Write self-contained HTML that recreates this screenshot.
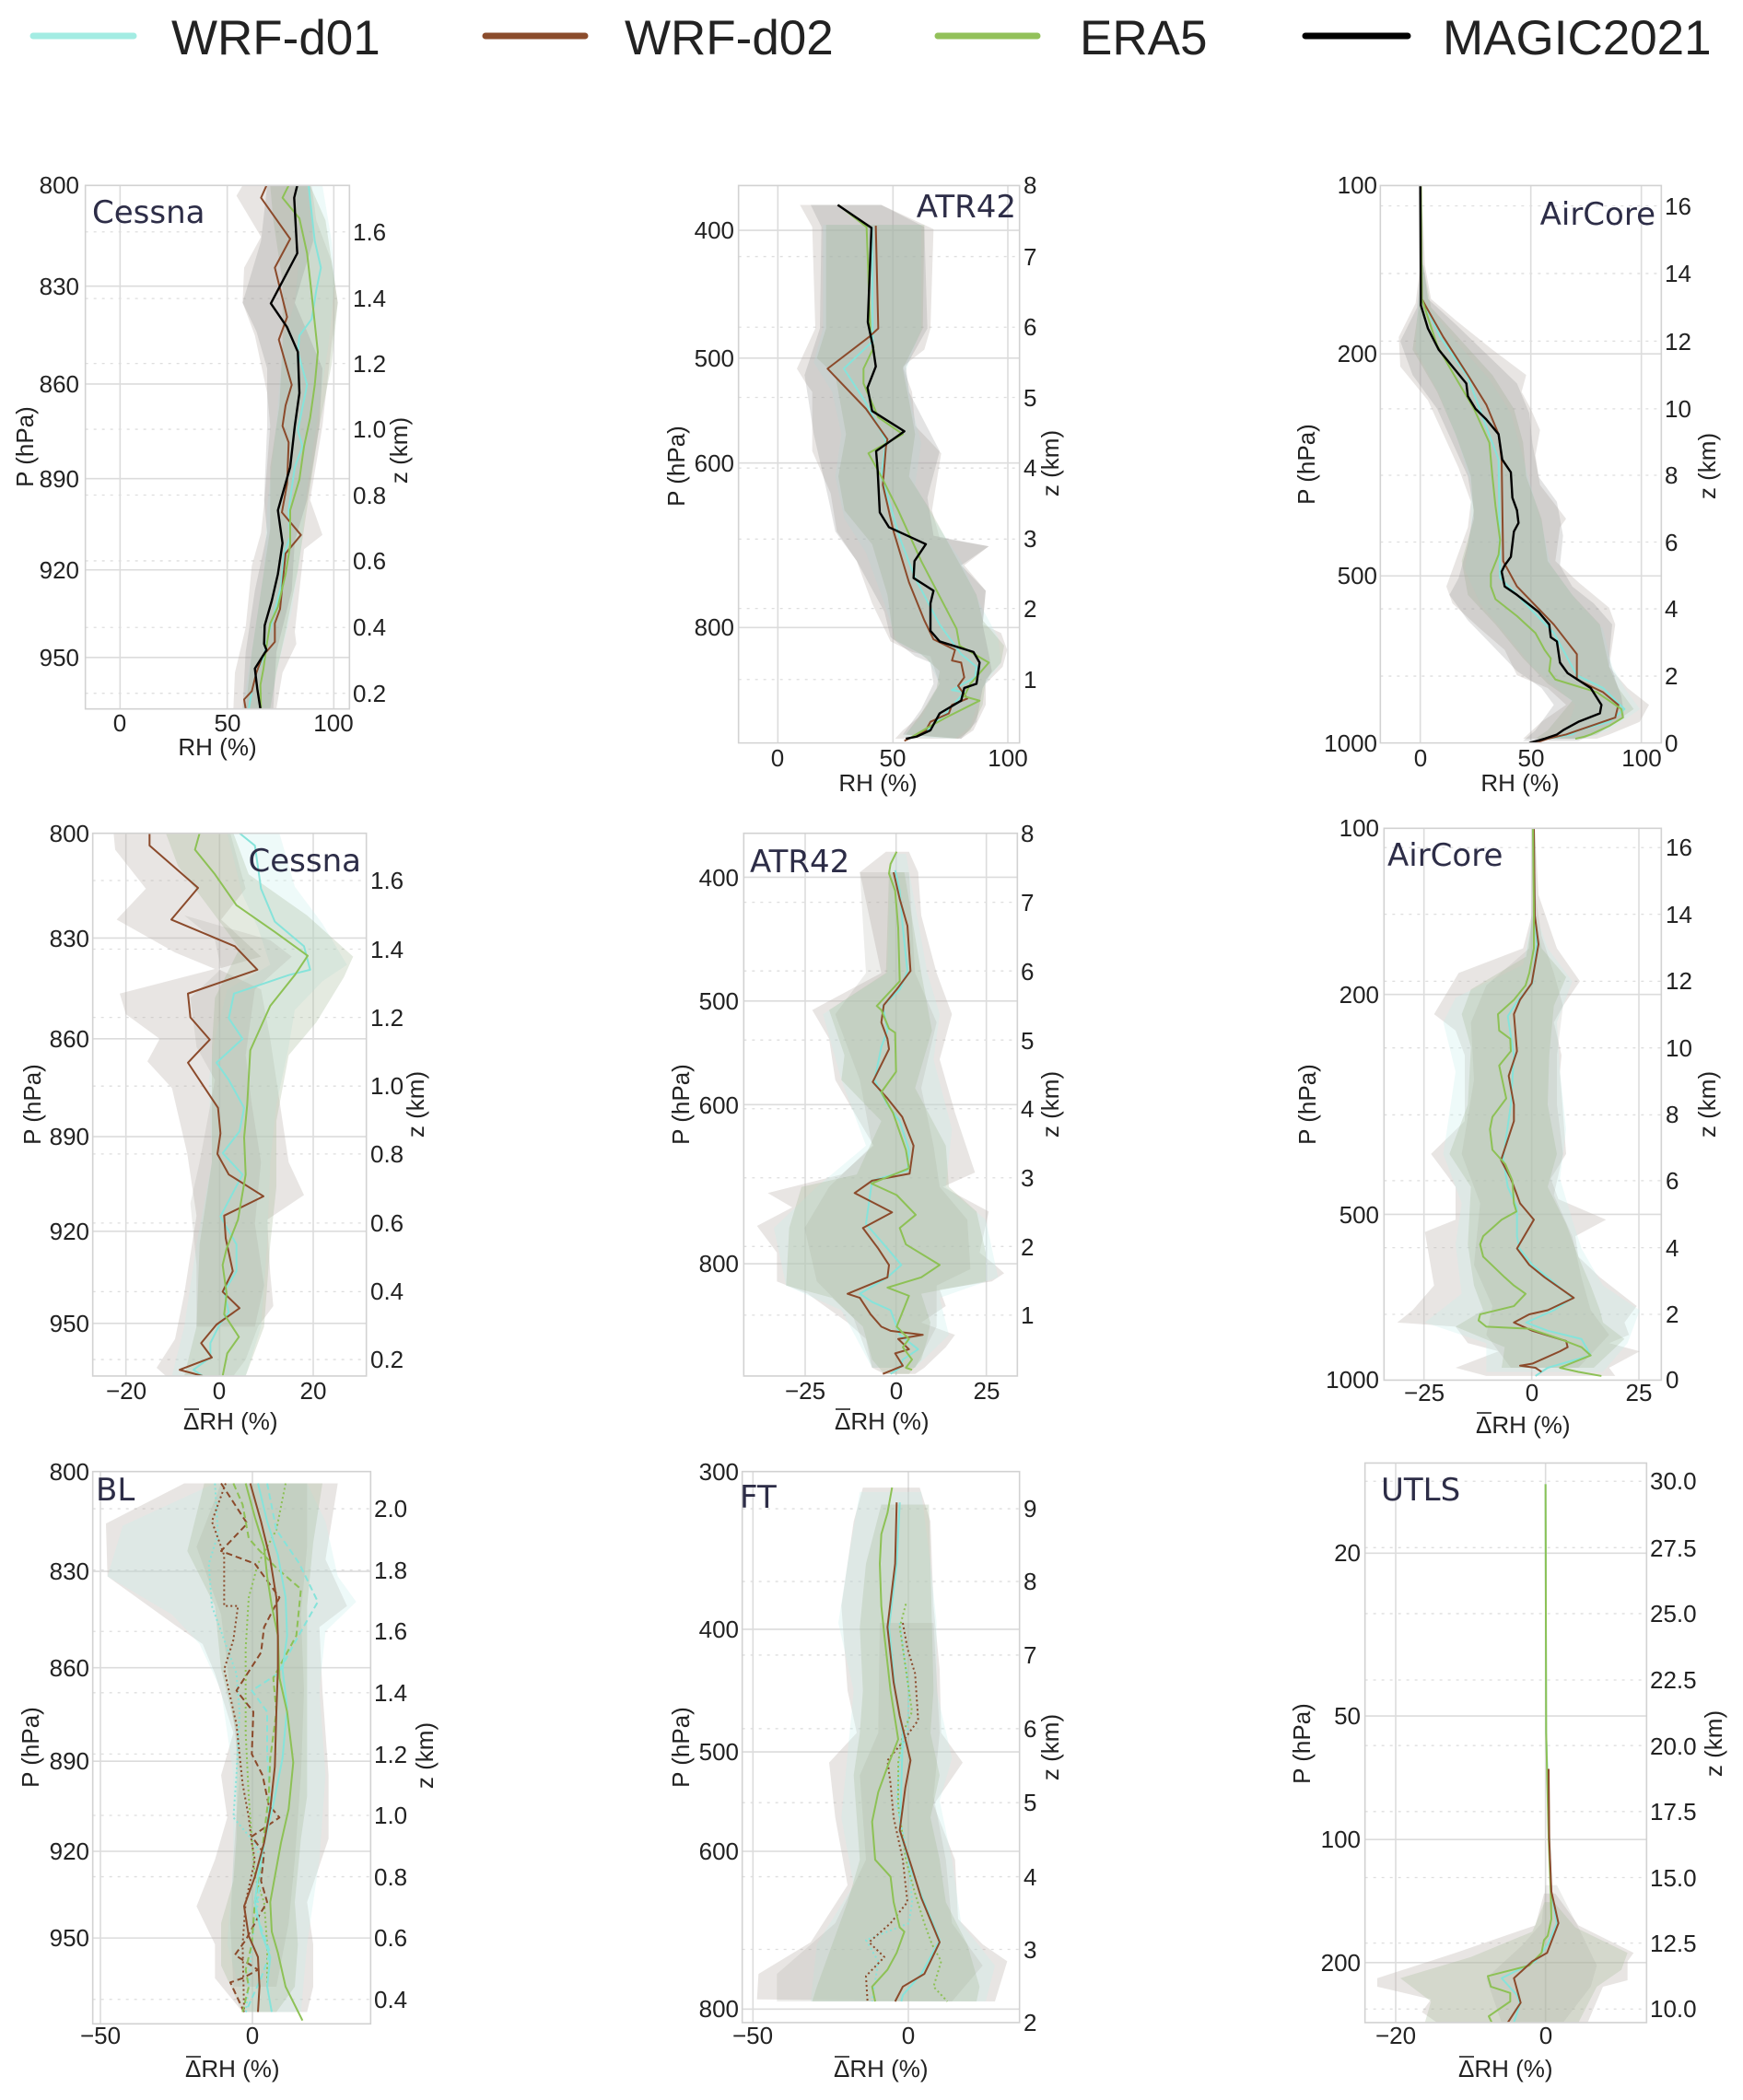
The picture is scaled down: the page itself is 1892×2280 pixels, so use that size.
<!DOCTYPE html>
<html><head><meta charset="utf-8"><style>
html,body{margin:0;padding:0;background:#fff}
svg{display:block}
.p polyline,.p polygon,.p line,.p rect{vector-effect:non-scaling-stroke}
.gr{stroke:#dcdcdc;stroke-width:1.6;fill:none}
.dt{stroke:#dedede;stroke-width:1.3;stroke-dasharray:3 6;fill:none}
.sp{stroke:#d2d2d2;stroke-width:1.6;fill:none}
.l{fill:none;stroke-width:2;stroke-linejoin:round}
.k{stroke:#000;stroke-width:2.4}
.b{stroke:#8b4a2b}
.c{stroke:#86e3da}
.e{stroke:#8dc155}
.ds{stroke-dasharray:7 4}
.do{stroke-dasharray:2 3}
.fa{fill:#bdb4ac;fill-opacity:.34}
.fb{fill:#8a8a8a;fill-opacity:.24}
.fc{fill:#a7b998;fill-opacity:.30}
.fd{fill:#c6eeea;fill-opacity:.30}
.fe{fill:#9a9a92;fill-opacity:.18}
.t{font-family:"Liberation Sans",Arial,sans-serif;font-size:26px;fill:#222}
.al{font-family:"Liberation Sans",Arial,sans-serif;font-size:26px;fill:#222}
.lab{font-family:"DejaVu Sans","Liberation Sans",sans-serif;font-size:34px;fill:#2d2d47}
.lg{font-family:"Liberation Sans",Arial,sans-serif;font-size:53px;fill:#222}
</style></head><body>
<svg width="1892" height="2280" viewBox="0 0 1892 2280" xmlns="http://www.w3.org/2000/svg">
<defs>
<clipPath id="c1" clipPathUnits="userSpaceOnUse"><rect x="278" y="115" width="860" height="1273"/></clipPath>
<clipPath id="c2" clipPathUnits="userSpaceOnUse"><rect x="305" y="112" width="915" height="1318"/></clipPath>
<clipPath id="c3" clipPathUnits="userSpaceOnUse"><rect x="355" y="112" width="915" height="1318"/></clipPath>
<clipPath id="c4" clipPathUnits="userSpaceOnUse"><rect x="302" y="100" width="891" height="1320"/></clipPath>
<clipPath id="c5" clipPathUnits="userSpaceOnUse"><rect x="322" y="100" width="891" height="1320"/></clipPath>
<clipPath id="c6" clipPathUnits="userSpaceOnUse"><rect x="367" y="88" width="903" height="1342"/></clipPath>
<clipPath id="c7" clipPathUnits="userSpaceOnUse"><rect x="302" y="82" width="905" height="1306"/></clipPath>
<clipPath id="c8" clipPathUnits="userSpaceOnUse"><rect x="317" y="82" width="903" height="1303"/></clipPath>
<clipPath id="c9" clipPathUnits="userSpaceOnUse"><rect x="305" y="62" width="917" height="1323"/></clipPath>
</defs>
<rect width="1892" height="2280" fill="#fff"/>

<!-- Legend -->
<g stroke-linecap="round" stroke-width="7">
<line x1="36" y1="39" x2="145" y2="39" stroke="#a3ece3"/>
<line x1="527" y1="39" x2="635" y2="39" stroke="#8b4c2c"/>
<line x1="1018" y1="39" x2="1126" y2="39" stroke="#93c15a"/>
<line x1="1417" y1="39" x2="1528" y2="39" stroke="#000"/>
</g>
<text class="lg" x="186" y="59">WRF-d01</text>
<text class="lg" x="678" y="59">WRF-d02</text>
<text class="lg" x="1172" y="59">ERA5</text>
<text class="lg" x="1566" y="59">MAGIC2021</text>

<!-- ================= P1 ================= -->
<g class="p" transform="matrix(0.333333,0,0,0.446429,0,150)">
<g class="gr"><line x1="391" y1="115" x2="391" y2="1388"/><line x1="740" y1="115" x2="740" y2="1388"/><line x1="1087" y1="115" x2="1087" y2="1388"/>
<line x1="278" y1="360" x2="1138" y2="360"/><line x1="278" y1="598" x2="1138" y2="598"/><line x1="278" y1="828" x2="1138" y2="828"/><line x1="278" y1="1050" x2="1138" y2="1050"/><line x1="278" y1="1263" x2="1138" y2="1263"/></g>
<g class="dt"><line x1="278" y1="228" x2="1138" y2="228"/><line x1="278" y1="390" x2="1138" y2="390"/><line x1="278" y1="548" x2="1138" y2="548"/><line x1="278" y1="708" x2="1138" y2="708"/><line x1="278" y1="868" x2="1138" y2="868"/><line x1="278" y1="1028" x2="1138" y2="1028"/><line x1="278" y1="1190" x2="1138" y2="1190"/><line x1="278" y1="1350" x2="1138" y2="1350"/></g>
<g clip-path="url(#c1)">
<polygon class="fa" points="790,115 770,140 850,240 795,315 790,400 830,480 870,620 880,700 860,890 850,960 820,1040 800,1190 765,1300 760,1388 900,1388 920,1300 965,1230 960,1200 990,1000 1050,965 1010,880 1050,700 1080,500 1100,400 1080,300 1030,200 1015,115"/>
<polygon class="fd" points="960,115 980,250 960,400 920,500 900,700 870,900 860,1050 830,1200 790,1388 880,1388 900,1300 950,1150 980,1000 1000,850 1040,650 1070,500 1090,350 1080,250 1050,115"/>
<polygon class="fc" points="880,115 890,200 920,350 920,500 910,650 880,800 880,950 850,1100 820,1250 800,1388 880,1388 900,1300 930,1200 970,1050 1000,900 1040,700 1080,550 1100,400 1080,300 1060,200 1010,115"/>
<polygon class="fb" points="870,115 850,250 790,400 835,470 870,560 870,700 860,880 870,960 830,1100 800,1250 790,1388 890,1388 900,1250 950,1100 960,980 1000,880 1040,700 1050,560 1000,470 960,400 1020,250 1010,115"/>
<polyline class="l c" points="1005,115 1010,150 1025,250 1045,315 1030,370 1015,440 975,480 970,520 1000,600 970,710 985,750 960,800 940,905 945,970 925,1010 915,1090 895,1150 870,1220 860,1260 835,1300 820,1345 810,1388"/>
<polyline class="l b" points="868,115 850,145 945,245 895,315 935,435 908,490 950,600 930,650 920,700 940,740 935,840 918,910 980,965 930,1010 912,1145 895,1180 895,1225 855,1260 835,1300 820,1345 795,1365 800,1388"/>
<polyline class="l e" points="940,115 920,145 975,195 1000,280 1015,380 1035,520 1025,600 1010,680 990,750 975,830 945,905 945,990 930,1060 905,1140 880,1180 870,1225 858,1290 848,1330 850,1388"/>
<polyline class="l k" points="968,115 958,145 968,280 882,402 935,460 970,520 975,620 960,700 945,800 905,905 920,985 905,1060 885,1125 862,1185 860,1230 868,1245 830,1290 838,1340 848,1388"/>
</g>
<rect class="sp" x="278" y="115" width="860" height="1273"/>
</g>
<g class="t" text-anchor="end"><text x="86" y="210">800</text><text x="86" y="320">830</text><text x="86" y="426">860</text><text x="86" y="529">890</text><text x="86" y="628">920</text><text x="86" y="723">950</text></g>
<g class="t" text-anchor="middle"><text x="130" y="794">0</text><text x="247" y="794">50</text><text x="362" y="794">100</text></g>
<g class="t"><text x="383" y="261">1.6</text><text x="383" y="333">1.4</text><text x="383" y="404">1.2</text><text x="383" y="475">1.0</text><text x="383" y="547">0.8</text><text x="383" y="618">0.6</text><text x="383" y="690">0.4</text><text x="383" y="762">0.2</text></g>
<text class="al" text-anchor="middle" x="236" y="820">RH (%)</text>
<text class="al" text-anchor="middle" transform="translate(36,485) rotate(-90)">P (hPa)</text>
<text class="al" text-anchor="middle" transform="translate(442,489) rotate(-90)">z (km)</text>
<text class="lab" x="100" y="242">Cessna</text>

<!-- ================= P2 ================= -->
<g class="p" transform="matrix(0.333333,0,0,0.459184,700,150)">
<g class="gr"><line x1="433" y1="112" x2="433" y2="1430"/><line x1="808" y1="112" x2="808" y2="1430"/><line x1="1182" y1="112" x2="1182" y2="1430"/>
<line x1="305" y1="218" x2="1220" y2="218"/><line x1="305" y1="520" x2="1220" y2="520"/><line x1="305" y1="768" x2="1220" y2="768"/><line x1="305" y1="1157" x2="1220" y2="1157"/></g>
<g class="dt"><line x1="305" y1="280" x2="1220" y2="280"/><line x1="305" y1="447" x2="1220" y2="447"/><line x1="305" y1="613" x2="1220" y2="613"/><line x1="305" y1="780" x2="1220" y2="780"/><line x1="305" y1="948" x2="1220" y2="948"/><line x1="305" y1="1112" x2="1220" y2="1112"/><line x1="305" y1="1280" x2="1220" y2="1280"/></g>
<g clip-path="url(#c2)">
<polygon class="fa" points="505,158 545,210 555,450 495,545 525,580 545,600 545,740 605,840 625,930 690,1000 740,1100 800,1190 870,1215 930,1225 950,1270 960,1290 920,1340 890,1370 840,1400 815,1420 1030,1420 1070,1400 1110,1340 1110,1290 1165,1250 1180,1210 1160,1170 1100,1150 1110,1070 1040,1010 1120,965 960,945 935,880 965,745 880,680 870,600 840,540 910,500 930,450 940,215 770,158"/>
<polygon class="fd" points="580,205 580,450 550,530 610,600 640,700 620,800 650,900 720,980 780,1100 820,1190 920,1230 960,1290 900,1370 840,1415 1010,1420 1060,1390 1100,1300 1160,1240 1150,1180 1090,1100 1030,1000 940,900 880,820 900,720 870,640 850,550 900,450 900,205"/>
<polygon class="fc" points="590,205 590,450 560,520 620,560 655,700 630,800 650,880 740,960 790,1080 810,1185 900,1220 960,1260 950,1300 900,1360 850,1410 1020,1420 1060,1400 1100,1340 1110,1280 1160,1240 1170,1200 1100,1140 1080,1080 1020,1000 930,880 860,800 880,700 860,620 840,545 905,450 910,205"/>
<polygon class="fb" points="540,158 575,210 570,450 520,560 550,700 600,860 620,930 690,1000 780,1120 800,1180 880,1225 930,1240 940,1290 900,1350 840,1410 1030,1420 1080,1380 1100,1300 1130,1260 1120,1220 1100,1150 1110,1070 1030,1010 1120,965 940,940 920,850 960,740 860,600 850,540 920,450 910,210 770,158"/>
<polyline class="l c" points="740,210 742,480 648,545 715,620 785,715 770,800 800,870 830,945 880,1040 960,1150 1030,1220 1080,1250 1075,1275 1000,1305 1040,1310 980,1360 920,1400 860,1420"/>
<polyline class="l b" points="752,207 760,450 730,470 595,545 720,640 790,712 785,730 775,820 810,930 860,1050 910,1140 940,1185 1010,1210 1000,1235 1030,1240 1040,1275 1020,1295 1050,1325 1000,1340 990,1360 930,1380 915,1400 845,1425"/>
<polyline class="l e" points="630,158 722,210 735,470 745,495 712,545 712,580 760,660 840,700 728,745 770,800 825,880 900,1000 1015,1160 1025,1200 1120,1240 1060,1290 1040,1320 1090,1330 980,1370 930,1390 860,1420"/>
<polyline class="l k" points="628,158 738,212 732,320 726,435 742,490 752,540 725,590 740,645 845,693 753,740 758,785 765,885 795,920 915,960 878,1000 875,1040 940,1070 930,1100 930,1165 960,1190 1070,1215 1090,1240 1080,1290 1040,1300 1030,1330 960,1360 930,1400 885,1415 850,1420"/>
</g>
<rect class="sp" x="305" y="112" width="915" height="1318"/>
</g>
<g class="t" text-anchor="end"><text x="797" y="259">400</text><text x="797" y="398">500</text><text x="797" y="512">600</text><text x="797" y="690">800</text></g>
<g class="t" text-anchor="middle"><text x="844" y="832">0</text><text x="969" y="832">50</text><text x="1094" y="832">100</text></g>
<g class="t"><text x="1111" y="210">8</text><text x="1111" y="288">7</text><text x="1111" y="364">6</text><text x="1111" y="441">5</text><text x="1111" y="517">4</text><text x="1111" y="594">3</text><text x="1111" y="670">2</text><text x="1111" y="747">1</text></g>
<text class="al" text-anchor="middle" x="953" y="859">RH (%)</text>
<text class="al" text-anchor="middle" transform="translate(743,506) rotate(-90)">P (hPa)</text>
<text class="al" text-anchor="middle" transform="translate(1149,503) rotate(-90)">z (km)</text>
<text class="lab" text-anchor="end" x="1103" y="236">ATR42</text>

<!-- ================= P3 ================= -->
<g class="p" transform="matrix(0.333333,0,0,0.459184,1380,150)">
<g class="gr"><line x1="485" y1="112" x2="485" y2="1430"/><line x1="845" y1="112" x2="845" y2="1430"/><line x1="1205" y1="112" x2="1205" y2="1430"/>
<line x1="355" y1="510" x2="1270" y2="510"/><line x1="355" y1="1035" x2="1270" y2="1035"/></g>
<g class="dt"><line x1="355" y1="160" x2="1270" y2="160"/><line x1="355" y1="320" x2="1270" y2="320"/><line x1="355" y1="480" x2="1270" y2="480"/><line x1="355" y1="640" x2="1270" y2="640"/><line x1="355" y1="797" x2="1270" y2="797"/><line x1="355" y1="955" x2="1270" y2="955"/><line x1="355" y1="1113" x2="1270" y2="1113"/><line x1="355" y1="1272" x2="1270" y2="1272"/></g>
<g clip-path="url(#c3)">
<polygon class="fa" points="485,112 485,300 470,390 415,470 420,540 510,620 560,700 610,780 650,860 640,920 600,1000 570,1060 590,1100 680,1160 760,1210 800,1270 900,1300 960,1340 880,1380 820,1420 1060,1420 1100,1410 1200,1380 1230,1340 1160,1300 1100,1250 1120,1150 1100,1110 1000,1050 925,1000 940,920 960,900 875,820 860,750 875,690 845,640 815,600 830,560 720,500 600,430 520,380 500,300 490,112"/>
<polygon class="fd" points="487,300 475,420 470,500 550,610 610,720 650,820 650,920 630,1020 680,1100 760,1170 850,1250 930,1300 990,1340 960,1400 900,1420 1020,1420 1100,1400 1200,1350 1150,1300 1110,1250 1080,1160 990,1090 910,1010 880,910 840,810 810,730 780,650 710,570 600,480 515,400 494,300"/>
<polygon class="fc" points="487,300 480,400 460,500 540,600 600,700 650,800 660,900 620,1000 640,1080 730,1150 820,1230 900,1290 980,1330 900,1400 860,1420 1000,1420 1060,1410 1180,1350 1130,1300 1100,1250 1070,1150 980,1080 900,1000 880,900 830,800 820,720 790,640 720,560 620,480 520,400 495,300"/>
<polygon class="fb" points="486,112 486,300 475,400 420,480 460,560 540,640 590,720 640,800 660,880 640,960 610,1040 580,1080 640,1140 720,1200 800,1260 880,1300 920,1340 860,1400 820,1425 1000,1425 1080,1400 1150,1370 1140,1320 1120,1280 1100,1230 1110,1150 1050,1100 980,1060 940,1010 950,940 930,860 870,800 850,720 840,650 800,580 700,510 600,440 510,380 495,300 490,112"/>
<polyline class="l c" points="487,112 490,380 550,470 640,565 740,760 745,1040 800,1080 920,1170 995,1270 1080,1300 1150,1350 1100,1380 1000,1400 980,1410 900,1420"/>
<polyline class="l b" points="487,112 490,380 505,400 560,470 640,560 700,630 740,700 750,760 755,1000 800,1060 920,1150 995,1220 995,1280 1080,1310 1130,1340 1120,1370 1000,1400 960,1410 900,1420 860,1430"/>
<polyline class="l e" points="487,112 490,380 540,490 595,560 660,640 710,720 720,800 730,870 745,950 740,985 715,1030 715,1060 730,1090 800,1130 860,1170 890,1210 910,1230 905,1260 925,1280 1060,1310 1100,1330 1140,1350 1145,1370 1100,1390 1040,1410 1020,1415 990,1420"/>
<polyline class="l k" points="485,112 487,395 510,450 545,500 590,540 635,580 640,610 665,640 700,665 740,700 752,760 780,790 785,850 800,880 805,910 790,930 780,990 760,1010 750,1025 760,1060 800,1080 870,1120 905,1150 910,1180 930,1190 935,1215 940,1240 965,1265 1040,1300 1075,1340 1070,1360 1000,1380 950,1400 930,1410 890,1420 840,1430"/>
</g>
<rect class="sp" x="355" y="112" width="915" height="1318"/>
</g>
<g class="t" text-anchor="end"><text x="1495" y="210">100</text><text x="1495" y="393">200</text><text x="1495" y="634">500</text><text x="1495" y="816">1000</text></g>
<g class="t" text-anchor="middle"><text x="1542" y="832">0</text><text x="1662" y="832">50</text><text x="1782" y="832">100</text></g>
<g class="t"><text x="1807" y="233">16</text><text x="1807" y="306">14</text><text x="1807" y="380">12</text><text x="1807" y="453">10</text><text x="1807" y="525">8</text><text x="1807" y="598">6</text><text x="1807" y="670">4</text><text x="1807" y="743">2</text><text x="1807" y="816">0</text></g>
<text class="al" text-anchor="middle" x="1650" y="859">RH (%)</text>
<text class="al" text-anchor="middle" transform="translate(1427,504) rotate(-90)">P (hPa)</text>
<text class="al" text-anchor="middle" transform="translate(1862,506) rotate(-90)">z (km)</text>
<text class="lab" text-anchor="end" x="1797" y="244">AirCore</text>

<!-- ================= P4 ================= -->
<g class="p" transform="matrix(0.333333,0,0,0.446429,0,860)">
<g class="gr"><line x1="410" y1="100" x2="410" y2="1420"/><line x1="715" y1="100" x2="715" y2="1420"/><line x1="1020" y1="100" x2="1020" y2="1420"/>
<line x1="302" y1="355" x2="1193" y2="355"/><line x1="302" y1="600" x2="1193" y2="600"/><line x1="302" y1="838" x2="1193" y2="838"/><line x1="302" y1="1068" x2="1193" y2="1068"/><line x1="302" y1="1292" x2="1193" y2="1292"/></g>
<g class="dt"><line x1="302" y1="215" x2="1193" y2="215"/><line x1="302" y1="382" x2="1193" y2="382"/><line x1="302" y1="548" x2="1193" y2="548"/><line x1="302" y1="715" x2="1193" y2="715"/><line x1="302" y1="880" x2="1193" y2="880"/><line x1="302" y1="1048" x2="1193" y2="1048"/><line x1="302" y1="1215" x2="1193" y2="1215"/><line x1="302" y1="1380" x2="1193" y2="1380"/></g>
<g clip-path="url(#c4)">
<polygon class="fa" points="370,100 375,140 475,235 380,310 570,390 700,430 390,490 410,540 520,600 480,655 560,720 610,880 640,1030 600,1220 570,1330 510,1400 540,1420 760,1420 800,1380 840,1300 890,1250 880,1170 870,1040 990,980 940,900 880,600 850,480 710,430 850,400 720,310 800,235 750,100"/>
<polygon class="fd" points="740,100 790,250 840,330 880,420 740,480 700,600 680,700 690,900 640,1100 600,1300 560,1420 800,1420 850,1300 870,1100 880,900 900,760 940,620 960,530 1050,460 1130,420 1050,320 960,230 910,100"/>
<polygon class="fc" points="540,100 580,180 700,300 780,380 700,500 690,620 690,900 650,1100 640,1300 600,1420 800,1420 860,1300 880,1100 900,960 900,800 940,640 1030,560 1120,450 1150,400 1000,300 810,200 760,100"/>
<polygon class="fe" points="600,300 700,360 720,430 620,500 640,620 700,700 650,900 620,1000 640,1150 640,1300 830,1300 860,1200 830,1050 850,900 820,760 800,640 830,480 950,400 880,360"/>
<polyline class="l c" points="780,100 830,130 850,235 895,315 990,375 1010,432 940,445 762,490 745,550 790,600 705,658 745,700 795,768 780,825 725,878 790,930 718,1032 770,1100 770,1165 730,1215 745,1265 715,1295 685,1340 685,1375 630,1405 660,1420"/>
<polyline class="l b" points="487,100 487,130 645,233 558,310 765,375 838,432 612,490 620,548 683,602 612,658 710,768 718,830 708,880 745,930 858,983 730,1030 735,1085 758,1165 725,1215 780,1255 705,1295 655,1340 690,1375 585,1405 660,1420"/>
<polyline class="l e" points="650,100 635,140 700,200 770,275 895,340 1002,398 960,445 880,520 815,628 805,760 795,840 800,930 775,1040 738,1110 725,1150 738,1220 730,1270 778,1325 740,1365 725,1420"/>
</g>
<rect class="sp" x="302" y="100" width="891" height="1320"/>
</g>
<g class="t" text-anchor="end"><text x="97" y="914">800</text><text x="97" y="1028">830</text><text x="97" y="1137">860</text><text x="97" y="1243">890</text><text x="97" y="1346">920</text><text x="97" y="1446">950</text></g>
<g class="t" text-anchor="middle"><text x="137" y="1519">−20</text><text x="238" y="1519">0</text><text x="340" y="1519">20</text></g>
<g class="t"><text x="402" y="965">1.6</text><text x="402" y="1040">1.4</text><text x="402" y="1114">1.2</text><text x="402" y="1188">1.0</text><text x="402" y="1262">0.8</text><text x="402" y="1337">0.6</text><text x="402" y="1411">0.4</text><text x="402" y="1485">0.2</text></g>
<text class="al" x="199" y="1552">ΔRH (%)</text><line x1="200" y1="1530" x2="216" y2="1530" stroke="#222" stroke-width="1.6"/>
<text class="al" text-anchor="middle" transform="translate(44,1199) rotate(-90)">P (hPa)</text>
<text class="al" text-anchor="middle" transform="translate(460,1199) rotate(-90)">z (km)</text>
<text class="lab" text-anchor="end" x="392" y="946">Cessna</text>

<!-- ================= P5 ================= -->
<g class="p" transform="matrix(0.333333,0,0,0.446429,700,860)">
<g class="gr"><line x1="522" y1="100" x2="522" y2="1420"/><line x1="818" y1="100" x2="818" y2="1420"/><line x1="1112" y1="100" x2="1112" y2="1420"/>
<line x1="322" y1="207" x2="1213" y2="207"/><line x1="322" y1="508" x2="1213" y2="508"/><line x1="322" y1="760" x2="1213" y2="760"/><line x1="322" y1="1147" x2="1213" y2="1147"/></g>
<g class="dt"><line x1="322" y1="268" x2="1213" y2="268"/><line x1="322" y1="435" x2="1213" y2="435"/><line x1="322" y1="603" x2="1213" y2="603"/><line x1="322" y1="770" x2="1213" y2="770"/><line x1="322" y1="938" x2="1213" y2="938"/><line x1="322" y1="1105" x2="1213" y2="1105"/><line x1="322" y1="1272" x2="1213" y2="1272"/></g>
<g clip-path="url(#c5)">
<polygon class="fa" points="785,145 700,195 770,440 545,530 600,600 620,700 745,860 640,930 400,975 480,1010 365,1055 430,1120 430,1190 530,1220 660,1290 720,1330 740,1400 780,1415 880,1415 910,1400 980,1350 1010,1320 900,1290 980,1250 960,1210 1130,1190 1170,1170 1140,1150 1090,1120 1120,1020 970,960 1075,925 1010,780 960,650 1000,540 950,440 900,300 890,195 860,145"/>
<polygon class="fd" points="800,150 790,440 580,540 640,700 720,860 560,960 420,1060 460,1200 640,1260 740,1400 880,1400 990,1320 960,1230 1150,1180 1110,1040 980,960 1000,820 940,650 960,540 920,440 850,150"/>
<polygon class="fe" points="700,195 720,440 620,540 700,700 740,860 600,960 520,1060 560,1190 680,1280 740,1400 880,1400 950,1300 950,1200 1060,1160 1050,1040 960,960 940,860 900,720 950,560 880,440 860,195"/>
<polygon class="fc" points="795,195 785,440 600,530 650,640 640,700 770,800 690,930 510,960 470,1060 460,1200 610,1230 710,1300 740,1380 780,1415 860,1415 900,1380 920,1330 930,1290 900,1220 1110,1190 1110,1120 1080,1020 990,960 980,860 880,720 935,580 900,440 845,195"/>
<polyline class="l c" points="815,190 830,240 840,330 855,435 830,480 775,520 790,580 770,620 748,700 790,760 830,800 860,870 855,920 740,945 720,1050 790,1110 835,1150 790,1180 700,1220 740,1240 800,1260 815,1290 830,1320 890,1355 840,1380 830,1400 800,1415"/>
<polyline class="l b" points="810,195 830,260 855,325 865,435 820,480 778,518 770,560 790,600 795,625 742,705 790,745 838,790 875,860 862,928 740,945 683,975 805,1022 710,1060 760,1110 795,1150 790,1180 660,1220 700,1230 735,1270 770,1300 800,1310 905,1320 825,1330 860,1355 815,1365 840,1395 775,1415"/>
<polyline class="l e" points="820,145 800,175 795,198 815,240 825,330 830,460 755,520 770,530 795,575 815,585 818,680 770,730 808,780 850,870 860,915 738,952 820,980 882,1028 830,1060 850,1100 960,1150 900,1180 790,1205 860,1225 820,1300 860,1330 840,1350 870,1380 850,1400 870,1405"/>
</g>
<rect class="sp" x="322" y="100" width="891" height="1320"/>
</g>
<g class="t" text-anchor="end"><text x="802" y="962">400</text><text x="802" y="1096">500</text><text x="802" y="1209">600</text><text x="802" y="1381">800</text></g>
<g class="t" text-anchor="middle"><text x="874" y="1519">−25</text><text x="973" y="1519">0</text><text x="1071" y="1519">25</text></g>
<g class="t"><text x="1108" y="914">8</text><text x="1108" y="989">7</text><text x="1108" y="1064">6</text><text x="1108" y="1139">5</text><text x="1108" y="1213">4</text><text x="1108" y="1288">3</text><text x="1108" y="1363">2</text><text x="1108" y="1437">1</text></g>
<text class="al" x="906" y="1552">ΔRH (%)</text><line x1="907" y1="1530" x2="923" y2="1530" stroke="#222" stroke-width="1.6"/>
<text class="al" text-anchor="middle" transform="translate(748,1199) rotate(-90)">P (hPa)</text>
<text class="al" text-anchor="middle" transform="translate(1149,1199) rotate(-90)">z (km)</text>
<text class="lab" x="814" y="947">ATR42</text>

<!-- ================= P6 ================= -->
<g class="p" transform="matrix(0.333333,0,0,0.446429,1380,860)">
<g class="gr"><line x1="497" y1="88" x2="497" y2="1430"/><line x1="848" y1="88" x2="848" y2="1430"/><line x1="1197" y1="88" x2="1197" y2="1430"/>
<line x1="367" y1="492" x2="1270" y2="492"/><line x1="367" y1="1027" x2="1270" y2="1027"/></g>
<g class="dt"><line x1="367" y1="135" x2="1270" y2="135"/><line x1="367" y1="297" x2="1270" y2="297"/><line x1="367" y1="460" x2="1270" y2="460"/><line x1="367" y1="622" x2="1270" y2="622"/><line x1="367" y1="785" x2="1270" y2="785"/><line x1="367" y1="945" x2="1270" y2="945"/><line x1="367" y1="1108" x2="1270" y2="1108"/><line x1="367" y1="1270" x2="1270" y2="1270"/></g>
<g clip-path="url(#c6)">
<polygon class="fa" points="850,88 848,300 820,380 610,440 530,540 600,580 630,640 630,800 520,880 600,960 600,1040 500,1070 530,1200 460,1260 410,1290 600,1300 640,1340 740,1360 600,1400 700,1420 1120,1420 1100,1400 1200,1360 1100,1340 1165,1320 1150,1290 1190,1250 1070,1180 1000,1130 990,1080 1090,1040 935,990 910,940 960,880 940,680 945,640 920,560 950,520 1005,460 930,380 870,250 858,88"/>
<polygon class="fd" points="850,300 820,420 600,500 560,560 600,680 560,880 620,1000 600,1100 620,1220 500,1290 700,1340 700,1410 1080,1410 1160,1340 1200,1260 1080,1200 1010,1110 980,1040 940,940 960,820 940,680 930,560 980,460 900,380 862,300"/>
<polygon class="fe" points="853,250 840,380 700,470 650,560 660,700 620,880 680,1000 660,1150 720,1250 700,1320 780,1400 1000,1400 1100,1320 1040,1260 1010,1180 980,1080 920,980 950,880 930,760 930,640 950,520 920,440 880,350 860,250"/>
<polygon class="fc" points="852,300 830,400 650,480 620,540 650,620 640,760 580,880 650,960 640,1100 660,1200 690,1260 600,1300 760,1350 750,1400 1050,1400 1150,1330 1080,1290 1070,1260 1040,1200 1000,1130 960,1050 900,960 930,880 900,760 905,640 920,520 960,450 880,380 860,300"/>
<polyline class="l c" points="855,88 858,300 865,370 850,465 800,510 770,545 790,640 780,760 755,890 770,960 800,1010 800,1080 808,1110 850,1150 900,1180 980,1230 920,1260 830,1290 900,1310 1010,1330 1040,1370 900,1400 860,1420"/>
<polyline class="l b" points="855,88 858,300 870,370 848,465 810,505 790,540 800,630 773,690 790,760 790,800 748,895 780,940 810,1000 855,1040 800,1110 840,1150 890,1180 985,1230 900,1260 840,1270 790,1290 850,1310 960,1335 965,1350 940,1360 880,1380 850,1390 810,1395 860,1400 880,1410"/>
<polyline class="l e" points="852,88 855,300 855,380 840,440 828,470 790,505 738,540 742,580 778,600 780,630 742,665 765,745 720,790 712,820 720,870 762,905 785,945 790,1000 798,1020 750,1040 690,1080 680,1100 690,1130 760,1180 790,1200 828,1220 790,1250 680,1270 675,1285 700,1300 840,1305 940,1330 1010,1350 1040,1370 940,1400 1000,1410 1075,1420"/>
</g>
<rect class="sp" x="367" y="88" width="903" height="1342"/>
</g>
<g class="t" text-anchor="end"><text x="1497" y="908">100</text><text x="1497" y="1089">200</text><text x="1497" y="1328">500</text><text x="1497" y="1507">1000</text></g>
<g class="t" text-anchor="middle"><text x="1546" y="1521">−25</text><text x="1663" y="1521">0</text><text x="1779" y="1521">25</text></g>
<g class="t"><text x="1808" y="929">16</text><text x="1808" y="1002">14</text><text x="1808" y="1074">12</text><text x="1808" y="1147">10</text><text x="1808" y="1219">8</text><text x="1808" y="1291">6</text><text x="1808" y="1364">4</text><text x="1808" y="1436">2</text><text x="1808" y="1507">0</text></g>
<text class="al" x="1602" y="1556">ΔRH (%)</text><line x1="1603" y1="1534" x2="1619" y2="1534" stroke="#222" stroke-width="1.6"/>
<text class="al" text-anchor="middle" transform="translate(1428,1199) rotate(-90)">P (hPa)</text>
<text class="al" text-anchor="middle" transform="translate(1862,1199) rotate(-90)">z (km)</text>
<text class="lab" x="1506" y="940">AirCore</text>

<!-- ================= P7 ================= -->
<g class="p" transform="matrix(0.333333,0,0,0.459184,0,1560)">
<g class="gr"><line x1="327" y1="82" x2="327" y2="1388"/><line x1="822" y1="82" x2="822" y2="1388"/>
<line x1="302" y1="318" x2="1207" y2="318"/><line x1="302" y1="546" x2="1207" y2="546"/><line x1="302" y1="767" x2="1207" y2="767"/><line x1="302" y1="980" x2="1207" y2="980"/><line x1="302" y1="1185" x2="1207" y2="1185"/></g>
<g class="dt"><line x1="302" y1="170" x2="1207" y2="170"/><line x1="302" y1="315" x2="1207" y2="315"/><line x1="302" y1="460" x2="1207" y2="460"/><line x1="302" y1="605" x2="1207" y2="605"/><line x1="302" y1="750" x2="1207" y2="750"/><line x1="302" y1="895" x2="1207" y2="895"/><line x1="302" y1="1040" x2="1207" y2="1040"/><line x1="302" y1="1330" x2="1207" y2="1330"/></g>
<g clip-path="url(#c7)">
<polygon class="fa" points="600,110 345,205 350,330 570,445 660,490 700,560 760,700 720,800 740,900 700,1000 640,1110 700,1200 700,1280 790,1360 1000,1360 1020,1300 1020,1200 1000,1100 1070,950 1070,800 1050,600 1040,450 1130,400 1060,290 1100,110"/>
<polygon class="fd" points="700,110 400,210 350,330 560,420 650,490 720,600 760,800 760,1000 740,1200 800,1360 980,1360 1000,1200 1040,1000 1060,800 1040,600 1060,460 1160,390 1100,330 1060,200 1000,110"/>
<polygon class="fe" points="720,110 640,260 720,420 750,600 780,800 760,1000 750,1150 760,1300 900,1300 940,1150 960,1000 980,800 990,600 980,420 1000,260 1000,110"/>
<polygon class="fc" points="665,110 610,270 700,400 720,550 770,700 770,850 770,950 760,1050 720,1150 720,1250 790,1360 900,1360 960,1300 970,1200 960,1100 980,950 1000,850 1000,700 1000,550 1000,400 1020,250 1050,110"/>
<polyline class="l c do" points="700,110 710,230 680,300 690,400 730,480 770,560 780,650 770,800 760,900 830,960 850,1000 840,1100 820,1200 810,1300 800,1360"/>
<polyline class="l b do" points="735,110 690,200 730,280 730,400 775,400 760,480 730,550 770,680 790,820 810,900 820,960 830,1000 800,1100 790,1200 795,1360"/>
<polyline class="l e do" points="930,110 900,220 840,300 810,380 800,500 800,700 810,850 820,950 830,1040 860,1100 870,1200 870,1300"/>
<polyline class="l c ds" points="870,110 900,220 975,300 1035,390 980,460 905,560 820,600 870,650 870,750 880,860 860,960 850,1050 830,1120 880,1220 850,1280 800,1360"/>
<polyline class="l b ds" points="720,110 805,205 720,270 830,300 910,380 860,450 850,510 770,600 825,650 820,750 855,800 875,870 910,900 820,945 860,985 850,1050 870,1100 845,1130 800,1190 765,1225 840,1260 790,1280 750,1290 795,1360"/>
<polyline class="l e ds" points="760,110 790,160 810,240 840,265 900,310 980,360 965,470 890,570 900,650 880,760 875,850 860,940 850,1000 830,1100 820,1200 800,1260 810,1300 790,1360"/>
<polyline class="l c" points="840,110 870,200 905,280 930,380 935,470 920,550 935,640 920,760 890,870 860,960 840,1040 830,1100 850,1170 880,1230 870,1300 885,1360"/>
<polyline class="l e" points="800,110 830,190 860,260 870,330 885,400 905,470 910,570 935,650 955,770 940,880 915,960 900,1020 880,1100 885,1170 905,1220 930,1300 985,1380"/>
<polyline class="l b" points="815,110 850,200 880,290 900,380 905,470 905,550 900,650 895,780 880,880 860,960 830,1040 795,1110 810,1180 840,1230 845,1300 840,1360"/>
</g>
<rect class="sp" x="302" y="82" width="905" height="1306"/>
</g>
<g class="t" text-anchor="end"><text x="97" y="1607">800</text><text x="97" y="1715">830</text><text x="97" y="1820">860</text><text x="97" y="1921">890</text><text x="97" y="2019">920</text><text x="97" y="2113">950</text></g>
<g class="t" text-anchor="middle"><text x="109" y="2219">−50</text><text x="274" y="2219">0</text></g>
<g class="t"><text x="406" y="1647">2.0</text><text x="406" y="1714">1.8</text><text x="406" y="1780">1.6</text><text x="406" y="1847">1.4</text><text x="406" y="1914">1.2</text><text x="406" y="1980">1.0</text><text x="406" y="2047">0.8</text><text x="406" y="2113">0.6</text><text x="406" y="2180">0.4</text></g>
<text class="al" x="201" y="2255">ΔRH (%)</text><line x1="202" y1="2233" x2="218" y2="2233" stroke="#222" stroke-width="1.6"/>
<text class="al" text-anchor="middle" transform="translate(42,1897) rotate(-90)">P (hPa)</text>
<text class="al" text-anchor="middle" transform="translate(470,1906) rotate(-90)">z (km)</text>
<text class="lab" x="104" y="1629">BL</text>

<!-- ================= P8 ================= -->
<g class="p" transform="matrix(0.333333,0,0,0.459184,700,1560)">
<g class="gr"><line x1="352" y1="82" x2="352" y2="1385"/><line x1="858" y1="82" x2="858" y2="1385"/>
<line x1="317" y1="455" x2="1220" y2="455"/><line x1="317" y1="745" x2="1220" y2="745"/><line x1="317" y1="980" x2="1220" y2="980"/><line x1="317" y1="1353" x2="1220" y2="1353"/></g>
<g class="dt"><line x1="317" y1="170" x2="1220" y2="170"/><line x1="317" y1="342" x2="1220" y2="342"/><line x1="317" y1="516" x2="1220" y2="516"/><line x1="317" y1="690" x2="1220" y2="690"/><line x1="317" y1="865" x2="1220" y2="865"/><line x1="317" y1="1040" x2="1220" y2="1040"/><line x1="317" y1="1212" x2="1220" y2="1212"/></g>
<g clip-path="url(#c8)">
<polygon class="fa" points="710,120 680,200 640,400 660,600 690,700 600,770 620,900 660,1060 540,1195 370,1270 365,1330 1140,1335 1180,1240 1100,1200 1020,1140 1010,1000 940,870 1035,770 965,700 960,550 940,400 930,200 895,120"/>
<polygon class="fd" points="700,130 660,300 630,440 680,600 660,750 640,900 680,1060 560,1200 540,1335 1110,1335 1140,1250 1030,1150 1000,1000 960,860 1000,760 950,600 950,440 930,300 900,130"/>
<polygon class="fe" points="765,440 760,700 700,800 720,1000 620,1150 430,1270 430,1335 1000,1335 1100,1250 1000,1150 980,1000 940,850 960,700 940,440"/>
<polygon class="fc" points="770,160 720,300 700,450 710,600 700,700 680,800 690,900 700,1000 660,1100 610,1200 560,1300 545,1335 1080,1335 1090,1300 1050,1200 980,1100 960,1000 930,900 960,800 930,700 940,600 935,450 930,300 925,160"/>
<polyline class="l c do" points="830,440 860,600 855,700 830,760 820,870 860,1000 870,1100 860,1150 720,1190 760,1240 740,1335"/>
<polyline class="l b do" points="840,440 855,500 880,560 890,670 860,700 830,730 790,765 800,820 810,900 840,1000 855,1100 800,1150 730,1195 780,1230 720,1275 725,1335"/>
<polyline class="l e do" points="850,395 830,450 840,500 860,600 870,650 840,700 825,770 825,870 850,1000 880,1080 910,1150 935,1200 965,1240 940,1300 985,1335"/>
<polyline class="l c" points="830,155 820,300 795,450 815,600 840,700 835,830 830,930 870,1030 960,1190 900,1270 840,1320 835,1335"/>
<polyline class="l e" points="805,120 790,180 770,230 765,300 770,400 780,470 800,600 825,715 790,780 760,840 740,910 750,1000 800,1040 810,1100 830,1160 845,1170 820,1220 790,1260 740,1300 750,1335"/>
<polyline class="l b" points="820,155 815,300 790,450 810,580 830,660 865,765 848,830 830,930 870,1020 900,1090 960,1195 910,1270 840,1300 815,1335"/>
</g>
<rect class="sp" x="317" y="82" width="903" height="1303"/>
</g>
<g class="t" text-anchor="end"><text x="802" y="1607">300</text><text x="802" y="1778">400</text><text x="802" y="1911">500</text><text x="802" y="2019">600</text><text x="802" y="2190">800</text></g>
<g class="t" text-anchor="middle"><text x="817" y="2219">−50</text><text x="986" y="2219">0</text></g>
<g class="t"><text x="1111" y="1647">9</text><text x="1111" y="1726">8</text><text x="1111" y="1806">7</text><text x="1111" y="1886">6</text><text x="1111" y="1966">5</text><text x="1111" y="2047">4</text><text x="1111" y="2126">3</text><text x="1111" y="2205">2</text></g>
<text class="al" x="905" y="2255">ΔRH (%)</text><line x1="906" y1="2233" x2="922" y2="2233" stroke="#222" stroke-width="1.6"/>
<text class="al" text-anchor="middle" transform="translate(748,1897) rotate(-90)">P (hPa)</text>
<text class="al" text-anchor="middle" transform="translate(1149,1897) rotate(-90)">z (km)</text>
<text class="lab" x="803" y="1637">FT</text>

<!-- ================= P9 ================= -->
<g class="p" transform="matrix(0.333333,0,0,0.459184,1380,1560)">
<g class="gr"><line x1="405" y1="62" x2="405" y2="1385"/><line x1="893" y1="62" x2="893" y2="1385"/>
<line x1="305" y1="275" x2="1222" y2="275"/><line x1="305" y1="660" x2="1222" y2="660"/><line x1="305" y1="952" x2="1222" y2="952"/><line x1="305" y1="1243" x2="1222" y2="1243"/></g>
<g class="dt"><line x1="305" y1="105" x2="1222" y2="105"/><line x1="305" y1="262" x2="1222" y2="262"/><line x1="305" y1="418" x2="1222" y2="418"/><line x1="305" y1="575" x2="1222" y2="575"/><line x1="305" y1="730" x2="1222" y2="730"/><line x1="305" y1="886" x2="1222" y2="886"/><line x1="305" y1="1042" x2="1222" y2="1042"/><line x1="305" y1="1197" x2="1222" y2="1197"/><line x1="305" y1="1353" x2="1222" y2="1353"/></g>
<g clip-path="url(#c9)">
<polygon class="fa" points="888,1080 860,1155 600,1220 345,1280 345,1300 520,1330 490,1360 540,1385 1030,1385 1080,1300 1160,1285 1160,1240 1180,1220 1000,1155 925,1080"/>
<polygon class="fe" points="893,1060 880,1150 820,1200 700,1280 750,1385 950,1385 1040,1300 1060,1250 1000,1160 930,1060"/>
<polygon class="fc" points="890,1100 850,1170 650,1230 420,1280 520,1335 500,1385 1000,1385 1060,1300 1140,1260 1160,1220 990,1160 920,1100"/>
<polyline class="l c" points="893,112 895,700 905,950 912,1080 930,1150 900,1200 860,1240 750,1280 800,1320 810,1340 790,1385"/>
<polyline class="l e" points="893,112 895,700 903,950 910,1080 912,1140 900,1180 888,1190 880,1220 840,1250 705,1275 715,1300 778,1315 778,1335 708,1370 718,1385"/>
<polyline class="l b" points="903,785 905,950 912,1075 935,1150 898,1220 850,1240 790,1280 812,1338 770,1385"/>
</g>
<rect class="sp" x="305" y="62" width="917" height="1323"/>
</g>
<g class="t" text-anchor="end"><text x="1477" y="1695">20</text><text x="1477" y="1872">50</text><text x="1477" y="2006">100</text><text x="1477" y="2140">200</text></g>
<g class="t" text-anchor="middle"><text x="1515" y="2219">−20</text><text x="1678" y="2219">0</text></g>
<g class="t"><text x="1791" y="1617">30.0</text><text x="1791" y="1690">27.5</text><text x="1791" y="1761">25.0</text><text x="1791" y="1833">22.5</text><text x="1791" y="1905">20.0</text><text x="1791" y="1976">17.5</text><text x="1791" y="2048">15.0</text><text x="1791" y="2119">12.5</text><text x="1791" y="2190">10.0</text></g>
<text class="al" x="1583" y="2255">ΔRH (%)</text><line x1="1584" y1="2233" x2="1600" y2="2233" stroke="#222" stroke-width="1.6"/>
<text class="al" text-anchor="middle" transform="translate(1422,1893) rotate(-90)">P (hPa)</text>
<text class="al" text-anchor="middle" transform="translate(1869,1893) rotate(-90)">z (km)</text>
<text class="lab" x="1499" y="1629">UTLS</text>
</svg>
</body></html>
